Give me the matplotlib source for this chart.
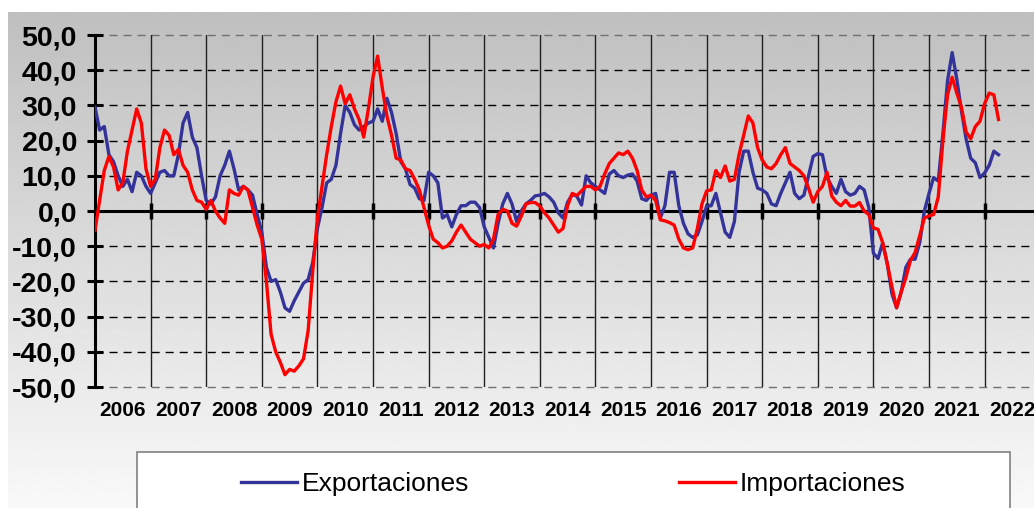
import numpy as np
import matplotlib
import matplotlib.pyplot as plt
from matplotlib.patches import Rectangle
from matplotlib.ticker import FuncFormatter, MultipleLocator
import matplotlib.transforms as mtransforms

matplotlib.rcParams['font.family'] = ['Liberation Sans', 'DejaVu Sans']

years = list(range(2006, 2023))

# monthly values, Jan 2006 .. Apr 2022
exportaciones = [
    29.5, 23, 24, 16, 14, 10, 7, 9, 5.5, 11, 10, 7,                   # 2006
    5, 8, 11, 11.5, 10, 10, 16, 25, 28, 21, 18, 10,                   # 2007
    3, 2, 4, 10, 13, 17, 12, 6, 7, 6, 4.5, -1,                        # 2008
    -6, -16, -20, -19.5, -23, -27.5, -28.5, -25.5, -23, -20.5, -19.5, -14.5,  # 2009
    -5, 1, 8, 9, 13, 22, 30, 28, 24.5, 23, 24, 25,                    # 2010
    25.5, 29, 25.5, 32, 28, 22, 14, 12, 7.5, 6.5, 3.5, 3,             # 2011
    11, 10, 8, -2, -1, -4.5, -1, 1.5, 1.5, 2.5, 2.5, 1,               # 2012
    -4.5, -7.5, -10.5, -3.5, 2, 5, 2, -3, 0, 2, 3, 4.3,               # 2013
    4.5, 5, 4, 2.5, -0.5, -2, 2.5, 4.7, 4.2, 1.7, 10, 8,              # 2014
    7, 6, 5, 10.5, 11.5, 10, 9.5, 10.2, 10.5, 8.5, 3.5, 3,            # 2015
    4.5, 5, -2, 1.5, 11, 11, 1.5, -3.5, -6.5, -7.5, -6.8, -3,         # 2016
    1.4, 1.5, 5, -0.5, -6, -7.5, -3, 11, 17, 17, 11, 6.5,             # 2017
    6, 5, 2, 1.5, 5, 8, 11, 5, 3.5, 4.5, 10, 15.5,                    # 2018
    16.3, 16, 9.5, 7, 5, 9, 5.5, 4.5, 5, 7, 6, 1,                     # 2019
    -12, -13.5, -9, -15, -23.5, -27.5, -23, -16, -13.7, -13.7, -9, 0, # 2020
    5, 9.5, 8.5, 22, 37, 45, 37.4, 28.5, 20.5, 15, 13.7, 9.5,         # 2021
    10.8, 13, 17, 16,                                                 # 2022
]

importaciones = [
    -5.5, 3, 11.5, 15.5, 12.5, 6, 8, 17, 23, 29, 25, 12,              # 2006
    7, 9, 18, 23, 21.5, 16, 17.5, 13, 11, 6, 3, 2.5,                  # 2007
    0.5, 3, 0, -2, -3.5, 6, 5, 4.5, 7, 6, 1, -4,                      # 2008
    -8, -20, -35, -40, -43, -46.5, -45, -45.5, -44, -42, -34, -17,    # 2009
    -2, 7, 16, 24, 31, 35.5, 30.5, 33, 29, 26, 21, 29,                # 2010
    38, 44, 35, 27, 21.5, 15, 14.5, 12, 11.5, 9, 6, 1,                # 2011
    -4, -8, -9, -10.5, -10, -8.5, -6, -4, -6, -8, -9, -10,            # 2012
    -9.5, -10.5, -8, -1, 0.5, 0, -3.5, -4.3, -1.5, 2, 2.4, 2.4,       # 2013
    1.4, -0.5, -2, -4, -6, -5, 1.5, 5, 4.4, 5.7, 7, 7,                # 2014
    6, 7, 10.5, 13.5, 15, 16.5, 16, 17, 15, 11.5, 6, 4,               # 2015
    4.5, 3, -2.5, -2.8, -3.3, -4, -8, -10.5, -11, -10.5, -5, 2,       # 2016
    5.7, 6, 11.5, 9.5, 12.8, 8.5, 9, 16, 21.5, 27, 25, 18,            # 2017
    14.5, 12.5, 12, 13.5, 16, 18, 13.5, 12.5, 11.5, 10, 6.5, 2.5,     # 2018
    5.5, 7, 11, 4.3, 2.5, 1.5, 3, 1.4, 1.4, 2.4, 0, -1,               # 2019
    -4.8, -5.2, -9, -15, -21.5, -27.5, -23, -19, -14, -11.8, -7, -2,  # 2020
    -1.4, -1, 4, 20, 33, 38, 33.5, 29.5, 22.5, 20.5, 24, 25.5,        # 2021
    30.5, 33.5, 33, 26,                                               # 2022
]

W, H = 1034, 508
fig = plt.figure(figsize=(W / 100, H / 100), dpi=100, facecolor='white')

# grey gradient backdrop
bg = fig.add_axes([8 / W, 0, 1 - 8 / W, 1 - 12 / H], zorder=0)
grad = np.linspace(0.75, 0.975, 256).reshape(-1, 1)
bg.imshow(grad, cmap='gray', vmin=0, vmax=1, aspect='auto',
          extent=[0, 1, 0, 1], origin='upper')
bg.axis('off')

ax = fig.add_axes([95 / W, 1 - 387 / H, 1 - 95 / W, 352 / H], zorder=1)
ax.set_facecolor('none')

t = np.arange(len(exportaciones)) / 12.0
ax.set_xlim(0, (W - 95) / 55.6)
ax.set_ylim(-50, 50)

# grid
for v in range(-50, 51, 10):
    if v == 0:
        continue
    c = '#707070' if abs(v) == 50 else 'black'
    ax.axhline(v, color=c, lw=1, ls=(0, (5.8, 4.3)), zorder=1, clip_on=False)
for k in range(1, len(years)):
    ax.axvline(k, color='#202020', lw=1, zorder=1)

l1, = ax.plot(t, exportaciones, color='#333399', lw=2.4, zorder=3,
              solid_joinstyle='round', label='Exportaciones')
l2, = ax.plot(t, importaciones, color='#ff0000', lw=2.4, zorder=4,
              solid_joinstyle='round', label='Importaciones')

for s in ['top', 'right']:
    ax.spines[s].set_visible(False)
ax.spines['left'].set_linewidth(2.2)
ax.spines['bottom'].set_position(('data', 0))
ax.spines['bottom'].set_linewidth(2.2)
ax.spines['bottom'].set_zorder(2)

ax.set_xticks(range(1, len(years)))
ax.tick_params(axis='x', direction='inout', length=12, width=2.5,
               labelbottom=False)
ax.yaxis.set_major_locator(MultipleLocator(10))
ax.yaxis.set_major_formatter(FuncFormatter(lambda v, p: f'{v:.1f}'.replace('.', ',')))
ax.tick_params(axis='y', direction='inout', length=12, width=2.2,
               labelsize=20.5, pad=7)
for lab in ax.get_yticklabels():
    lab.set_fontweight('bold')

trans = mtransforms.blended_transform_factory(ax.transData, ax.transAxes)
for i, y in enumerate(years):
    ax.text(i + 0.5, -0.068, str(y), transform=trans, ha='center', va='center',
            fontsize=15, fontweight='bold', clip_on=False)

# legend box
fig.patches.append(Rectangle((137 / W, -0.02), (1010 - 137) / W, 0.02 + (508 - 452) / H,
                             transform=fig.transFigure, facecolor='white',
                             edgecolor='#808080', lw=1.2, zorder=2))
for h, cx in [(l1, 355.5), (l2, 792.5)]:
    leg = fig.legend(handles=[h], loc='center', bbox_to_anchor=(cx / W, 1 - 484 / H),
                     frameon=False, fontsize=19, handlelength=2.1,
                     handletextpad=0.2, borderpad=0)
    leg.set_zorder(3)

fig.savefig('out.png', dpi=100, facecolor=fig.get_facecolor())
